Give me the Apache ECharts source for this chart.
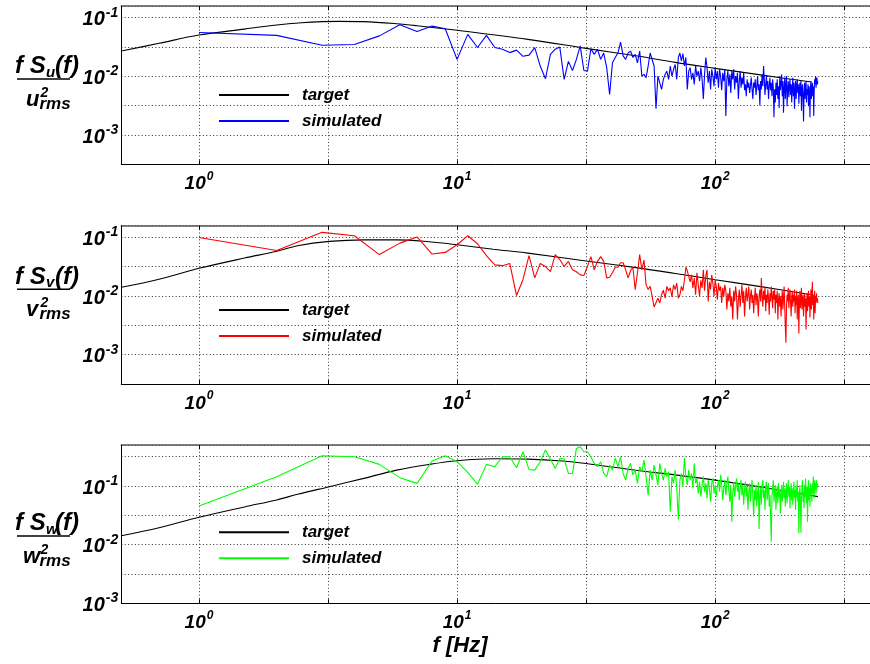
<!DOCTYPE html>
<html>
<head>
<meta charset="utf-8">
<script src="https://cdn.jsdelivr.net/npm/echarts@6/dist/echarts.min.js"></script>
<style>
html, body { margin: 0; padding: 0; background: #fff; }
#chart { width: 870px; height: 664px; }
</style>
</head>
<body>
<div id="chart"></div>
<script>
// Frequency bins of the simulated spectra (1 Hz resolution)
const freqHz = Array.from({ length: 250 }, (_, i) => i + 1);

// Normalised spectra f*S(f)/sigma^2 of the simulated u, v, w components
const simU = [
  0.056,0.050,0.034,0.035,0.049,0.076,0.058,0.072,0.065,0.0195,
  0.052,0.031,0.050,0.031,0.029,0.0254,0.028,0.022,0.023,0.031,
  0.015,0.0091,0.0237,0.029,0.0316,0.0089,0.018,0.0126,0.0195,0.033,
  0.0126,0.0123,0.0295,0.0237,0.029,0.0195,0.025,0.0141,0.0049,0.017,
  0.021,0.025,0.0385,0.0224,0.0195,0.025,0.027,0.021,0.0237,0.017,
  0.027,0.0101,0.0108,0.0095,0.015,0.025,0.027,0.015,0.0028,0.0101,
  0.0078,0.006,0.0089,0.0108,0.0123,0.0089,0.015,0.0101,0.0132,0.0159,
  0.0089,0.021,0.025,0.0183,0.0245,0.015,0.021,0.006,0.0123,0.0141,
  0.0089,0.0115,0.0073,0.015,0.0101,0.0123,0.0083,0.0141,0.0089,0.0041,
  0.0108,0.021,0.0141,0.0078,0.0123,0.006,0.0132,0.0101,0.0068,0.0141,
  0.0089,0.0123,0.0064,0.0132,0.0101,0.0058,0.0115,0.0083,0.0132,0.0021,
  0.0089,0.0123,0.0068,0.0108,0.0052,0.0123,0.0089,0.0132,0.006,0.0101,
  0.0078,0.0115,0.0041,0.0083,0.0123,0.0064,0.0095,0.0073,0.0115,0.0058,
  0.0073,0.0046,0.0089,0.0064,0.0078,0.0052,0.0068,0.0095,0.006,0.0041,
  0.0078,0.0064,0.0089,0.0048,0.0068,0.0101,0.0058,0.0073,0.0032,0.0083,
  0.006,0.0108,0.0068,0.015,0.0089,0.0048,0.0073,0.0101,0.006,0.0083,
  0.0041,0.0068,0.0095,0.0058,0.0078,0.0046,0.0089,0.0064,0.0020,0.006,
  0.0036,0.0078,0.0048,0.0089,0.0041,0.0068,0.0029,0.0101,0.0058,0.0078,
  0.0108,0.0046,0.0083,0.0024,0.0064,0.0095,0.0041,0.0073,0.0101,0.0031,
  0.006,0.0083,0.0044,0.0068,0.0089,0.0048,0.0073,0.0036,0.0064,0.0095,
  0.0046,0.0078,0.0028,0.006,0.0083,0.0041,0.0068,0.0089,0.0052,0.0073,
  0.0034,0.006,0.0078,0.0046,0.0083,0.0026,0.0058,0.0073,0.0044,0.0017,
  0.0052,0.0078,0.0041,0.0064,0.0083,0.0036,0.006,0.0048,0.0073,0.0031,
  0.0068,0.0052,0.0020,0.0064,0.0083,0.0041,0.006,0.0078,0.0046,0.0068,
  0.0021,0.0058,0.0089,0.0073,0.0101,0.0064,0.0083,0.0095,0.0073,0.0083
];
const simV = [
  0.1,0.060,0.122,0.107,0.051,0.080,0.102,0.052,0.0555,0.075,
  0.107,0.078,0.049,0.034,0.033,0.036,0.0102,0.019,0.049,0.0204,
  0.036,0.032,0.026,0.051,0.042,0.032,0.039,0.028,0.026,0.023,
  0.0224,0.032,0.047,0.028,0.039,0.047,0.039,0.0204,0.021,0.025,
  0.031,0.031,0.037,0.037,0.028,0.0204,0.027,0.031,0.0129,0.025,
  0.051,0.028,0.041,0.0155,0.0129,0.0146,0.0099,0.0065,0.007,0.0092,
  0.0076,0.0105,0.0126,0.0092,0.0146,0.0123,0.0138,0.0097,0.0155,0.0129,
  0.0166,0.0092,0.0105,0.0146,0.0123,0.0186,0.031,0.027,0.025,0.0175,
  0.023,0.0138,0.0204,0.0105,0.025,0.0155,0.0099,0.0186,0.0138,0.028,
  0.0123,0.022,0.028,0.0081,0.0175,0.0129,0.023,0.0166,0.0099,0.0186,
  0.0146,0.0087,0.0166,0.0123,0.0146,0.0076,0.0138,0.0099,0.0155,0.0123,
  0.0059,0.0112,0.0081,0.0138,0.0066,0.0099,0.004,0.0123,0.0081,0.0146,
  0.0105,0.004,0.0087,0.0129,0.0066,0.0099,0.0155,0.0076,0.0123,0.0045,
  0.0092,0.0138,0.0081,0.0105,0.0146,0.0059,0.0099,0.0129,0.0076,0.0105,
  0.0051,0.0092,0.0138,0.007,0.0112,0.0087,0.0045,0.0099,0.0129,0.0081,
  0.0204,0.0099,0.0066,0.0123,0.0087,0.0146,0.0055,0.0105,0.0076,0.0129,
  0.0092,0.0048,0.0112,0.0081,0.0146,0.0099,0.0062,0.0123,0.0087,0.0129,
  0.0051,0.0105,0.0076,0.0123,0.004,0.0087,0.0112,0.0066,0.0099,0.0045,
  0.0081,0.0123,0.0059,0.0092,0.0146,0.007,0.003,0.0016,0.0066,0.0105,
  0.0081,0.0138,0.0062,0.0099,0.0129,0.0076,0.0045,0.0092,0.0123,0.0066,
  0.0105,0.0081,0.0129,0.0051,0.0099,0.007,0.0123,0.004,0.0087,0.0105,
  0.0023,0.0076,0.0123,0.0062,0.0092,0.0138,0.0059,0.0087,0.0105,0.0045,
  0.0081,0.0112,0.0066,0.0092,0.0027,0.0076,0.0112,0.0055,0.0087,0.0123,
  0.0066,0.0099,0.0043,0.0081,0.0129,0.0059,0.0092,0.0175,0.007,0.0105,
  0.004,0.0087,0.0123,0.0051,0.0099,0.0076,0.0112,0.0081,0.0092,0.0076
];
const simW = [
  0.0457,0.144,0.329,0.316,0.234,0.139,0.111,0.267,0.329,0.26,
  0.171,0.107,0.234,0.214,0.316,0.316,0.205,0.385,0.192,0.187,
  0.26,0.411,0.289,0.20,0.296,0.289,0.164,0.164,0.438,0.468,
  0.385,0.385,0.316,0.243,0.214,0.26,0.164,0.145,0.228,0.187,
  0.30,0.214,0.316,0.164,0.126,0.20,0.243,0.155,0.187,0.111,
  0.214,0.175,0.277,0.145,0.07,0.187,0.126,0.228,0.155,0.104,
  0.243,0.164,0.126,0.20,0.145,0.175,0.0363,0.145,0.111,0.187,
  0.092,0.027,0.126,0.164,0.098,0.30,0.145,0.104,0.187,0.126,
  0.164,0.092,0.243,0.111,0.135,0.075,0.118,0.066,0.104,0.145,
  0.08,0.111,0.062,0.126,0.092,0.054,0.111,0.135,0.075,0.104,
  0.066,0.098,0.126,0.08,0.155,0.104,0.0575,0.092,0.126,0.07,
  0.111,0.145,0.0855,0.054,0.104,0.0245,0.075,0.118,0.066,0.098,
  0.135,0.08,0.111,0.0575,0.092,0.126,0.07,0.104,0.048,0.0855,
  0.118,0.066,0.098,0.039,0.08,0.111,0.054,0.092,0.126,0.066,
  0.030,0.0855,0.0575,0.104,0.0447,0.075,0.118,0.0185,0.066,0.092,
  0.048,0.104,0.126,0.062,0.0855,0.039,0.098,0.118,0.0575,0.08,
  0.111,0.0447,0.07,0.030,0.0112,0.066,0.092,0.126,0.054,0.08,
  0.104,0.039,0.075,0.098,0.0507,0.111,0.066,0.0855,0.034,0.07,
  0.104,0.054,0.08,0.118,0.062,0.092,0.0447,0.075,0.111,0.0507,
  0.0855,0.126,0.066,0.098,0.042,0.08,0.111,0.0575,0.092,0.048,
  0.075,0.118,0.062,0.0855,0.039,0.098,0.066,0.126,0.054,0.08,
  0.0155,0.07,0.104,0.048,0.016,0.066,0.092,0.126,0.054,0.08,
  0.042,0.104,0.066,0.135,0.075,0.0507,0.098,0.0245,0.08,0.126,
  0.0575,0.092,0.0447,0.111,0.07,0.092,0.054,0.111,0.075,0.145,
  0.092,0.062,0.126,0.0855,0.111,0.075,0.126,0.092,0.111,0.098
];

// Target (model) spectra, tabulated at the listed frequencies
const targetFreqU = [0.5, 0.7, 1, 1.5, 2, 2.5, 3, 3.5, 4.35, 5.83, 7, 10, 18.8, 31.6, 50, 70, 100, 150, 236];
const targetU     = [0.027, 0.0366, 0.0506, 0.064, 0.075, 0.082, 0.0857, 0.0867, 0.0857, 0.079, 0.073, 0.061, 0.0427, 0.030, 0.0222, 0.0173, 0.0137, 0.0106, 0.0080];
const targetFreqV = [0.5, 0.7, 1, 1.5, 2, 2.41, 3.2, 4.35, 5.83, 7.8, 10, 13.8, 18.8, 31.6, 51, 70, 100, 150, 236];
const targetV     = [0.0141, 0.0194, 0.0297, 0.0445, 0.058, 0.0723, 0.0855, 0.091, 0.091, 0.0843, 0.075, 0.063, 0.054, 0.0395, 0.030, 0.0243, 0.019, 0.0145, 0.0105];
const targetFreqW = [0.5, 0.7, 1, 1.5, 2, 2.41, 3.2, 4.35, 5.83, 7.8, 10, 13.8, 18.8, 25.6, 31.6, 50, 70, 100, 150, 200, 250];
const targetW     = [0.0142, 0.0195, 0.0293, 0.044, 0.058, 0.0723, 0.0975, 0.135, 0.187, 0.234, 0.27, 0.292, 0.288, 0.268, 0.243, 0.184, 0.155, 0.126, 0.096, 0.078, 0.066];

// Legend entries and axis title
const legendNames = ['target', 'simulated'];
const xAxisTitle = 'f [Hz]';

// ---- layout / styling ----
const FAMILY = '"Liberation Sans", Arial, Helvetica, sans-serif';
const X_MIN = Math.log10(0.5), X_MAX = 2.6;
const GRID_LEFT = 121.3, GRID_W = 758, GRID_H = 158.3;

const panels = [
  { key: 'u', color: '#0000ff', top: 6,     yMin: -3.5, yMax: -0.8, tf: targetFreqU, tv: targetU, sim: simU, legendLine: 95,    bar: 79 },
  { key: 'v', color: '#ff0000', top: 225.7, yMin: -3.5, yMax: -0.8, tf: targetFreqV, tv: targetV, sim: simV, legendLine: 310,   bar: 289.3 },
  { key: 'w', color: '#00ff00', top: 445,   yMin: -3,   yMax: -0.3, tf: targetFreqW, tv: targetW, sim: simW, legendLine: 532.3, bar: 536 }
];

// points are placed on log10-scaled value axes
const toLogXY = (fs, vs) => fs.map((f, i) => [Math.log10(f), Math.log10(vs[i])]);
const isWhole = v => Math.abs(v - Math.round(v)) < 1e-6;
const powLabel = v => isWhole(v) ? '{b|10}{s|' + Math.round(v) + '}' : '';

const richFor = (big, small) => ({
  b: { fontFamily: FAMILY, fontSize: big, fontWeight: 'bold', fontStyle: 'italic', color: '#000', lineHeight: big + 4, verticalAlign: 'bottom' },
  s: { fontFamily: FAMILY, fontSize: small, fontWeight: 'bold', fontStyle: 'italic', color: '#000', lineHeight: small, verticalAlign: 'top', padding: [0, 0, 0, 1] }
});
const gridLine = { show: true, lineStyle: { type: [1, 2.4], color: '#333', width: 1 } };
const frameLine = { show: true, onZero: false, lineStyle: { color: '#000', width: 1 } };

const grid = [], xAxis = [], yAxis = [], series = [], legend = [], graphic = [];

panels.forEach((p, i) => {
  grid.push({ left: GRID_LEFT, top: p.top, width: GRID_W, height: GRID_H, containLabel: false });

  xAxis.push({
    gridIndex: i, type: 'value', position: 'bottom', min: X_MIN, max: X_MAX,
    axisLine: frameLine,
    axisTick: { show: true, inside: true, length: 4, lineStyle: { color: '#000' } },
    axisLabel: { formatter: powLabel, rich: richFor(19, 12), margin: 6, showMinLabel: false, showMaxLabel: false },
    splitLine: gridLine
  });
  xAxis.push({
    gridIndex: i, type: 'value', position: 'top', min: X_MIN, max: X_MAX,
    axisLine: { show: true, onZero: false, lineStyle: { color: '#555', width: 1.5 } },
    axisTick: { show: true, inside: true, length: 4, lineStyle: { color: '#000' } },
    axisLabel: { show: false },
    splitLine: { show: false }
  });
  yAxis.push({
    gridIndex: i, type: 'value', min: p.yMin, max: p.yMax, interval: 0.5,
    axisLine: frameLine,
    axisTick: { show: false },
    axisLabel: { formatter: powLabel, rich: richFor(20, 14), margin: 3 },
    splitLine: gridLine
  });

  series.push({
    type: 'line', name: p.key + ':' + legendNames[0], xAxisIndex: 2 * i, yAxisIndex: i,
    data: toLogXY(p.tf, p.tv), symbol: 'none', smooth: 0.35,
    lineStyle: { color: '#000', width: 1.1 }, itemStyle: { color: '#000' }
  });
  series.push({
    type: 'line', name: p.key + ':' + legendNames[1], xAxisIndex: 2 * i, yAxisIndex: i,
    data: toLogXY(freqHz, p.sim), symbol: 'none',
    lineStyle: { color: p.color, width: 1.1 }, itemStyle: { color: p.color }
  });

  // legend keys are thin 70px bars beside the labels
  legend.push({
    data: [p.key + ':' + legendNames[0], p.key + ':' + legendNames[1]],
    formatter: n => n.split(':')[1],
    orient: 'vertical', left: 219, top: p.legendLine - 10, padding: 0,
    icon: 'rect', itemWidth: 70, itemHeight: 2, itemGap: 6, selectedMode: false,
    itemStyle: { borderWidth: 0 },
    textStyle: { fontFamily: FAMILY, fontSize: 17, fontWeight: 'bold', fontStyle: 'italic', color: '#000',
                 lineHeight: 20, padding: [0, 0, 0, 8] }
  });

  // y-axis title: f S_k(f) / k^2_rms
  const font = (sz) => 'italic bold ' + sz + 'px ' + FAMILY;
  const txt = (text, x, baseline, sz) => ({
    type: 'text', silent: true,
    style: { text, x, y: baseline - 0.347 * sz, font: font(sz), fill: '#000',
             align: 'left', textAlign: 'left', verticalAlign: 'middle', textVerticalAlign: 'middle' }
  });
  const b = p.bar;
  graphic.push(txt('f S', 15, b - 4, 24));
  graphic.push(txt(p.key, 46, b - 1, 15));
  graphic.push(txt('(f)', 55, b - 4, 24));
  graphic.push({ type: 'line', silent: true, shape: { x1: 17, y1: b, x2: 70, y2: b }, style: { stroke: '#000', lineWidth: 1.6 } });
  graphic.push(txt(p.key, p.key === 'w' ? 23 : 26, b + 28.5, 22));
  graphic.push(txt('2', 40.5, b + 18.5, 14));
  graphic.push(txt('rms', 39.5, b + 31, 17));
});

graphic.push({
  type: 'text', silent: true,
  style: { text: xAxisTitle, x: 460, y: 645.5, font: 'italic bold 22px ' + FAMILY, fill: '#000',
           align: 'center', textAlign: 'center', verticalAlign: 'middle', textVerticalAlign: 'middle' }
});

const chart = echarts.init(document.getElementById('chart'), null, { renderer: 'canvas' });
chart.setOption({
  animation: false,
  backgroundColor: '#fff',
  grid, xAxis, yAxis, series, legend, graphic
});
</script>
</body>
</html>
